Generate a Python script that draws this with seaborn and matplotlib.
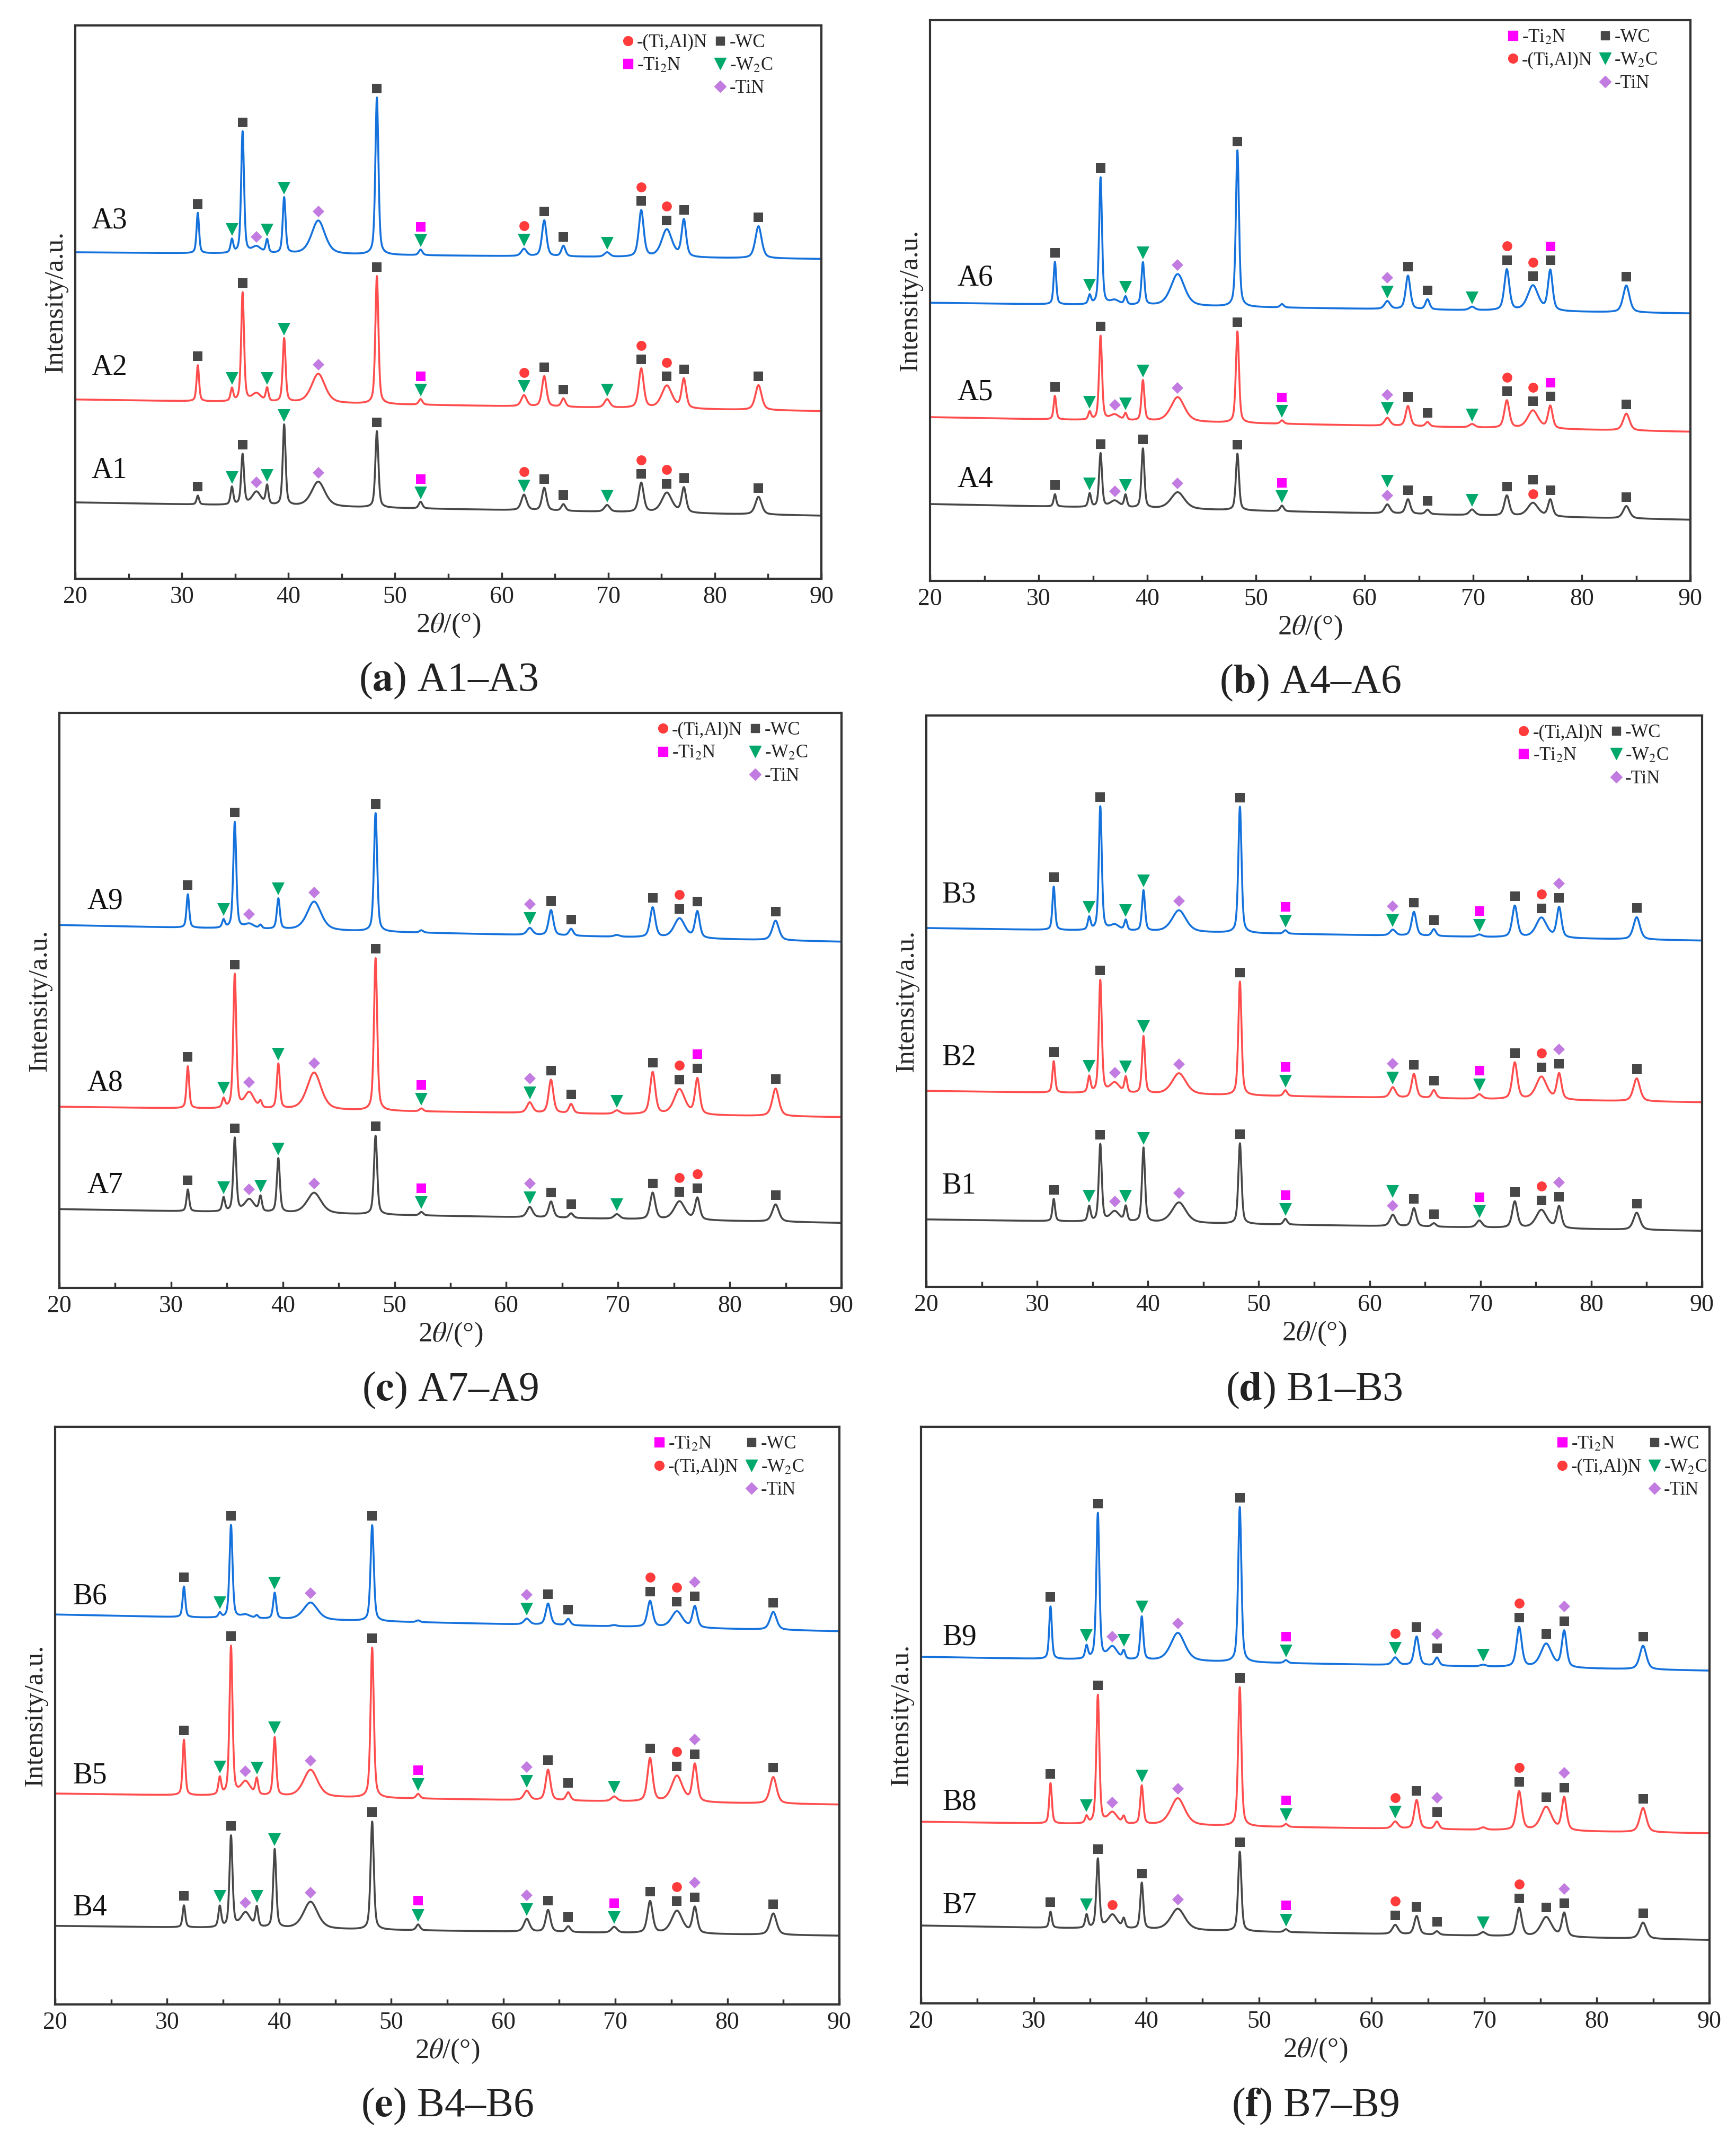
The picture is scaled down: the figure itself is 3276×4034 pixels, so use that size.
import numpy as np
import pandas as pd
import matplotlib
matplotlib.use("Agg")
import matplotlib.pyplot as plt
import seaborn as sns
from matplotlib.lines import Line2D
from matplotlib.ticker import MultipleLocator

# XRD peak positions (2theta, deg) shared by all samples, with their FWHM
peak_pos = [31.5, 34.7, 35.7, 37.0, 38.0, 39.6, 42.8, 48.3, 52.4,
            62.1, 64.0, 65.8, 69.9, 73.1, 75.5, 77.1, 84.1]
peak_fwhm = [0.28, 0.3, 0.32, 1.0, 0.3, 0.32, 1.5, 0.34, 0.4,
             0.6, 0.5, 0.45, 0.6, 0.55, 1.15, 0.5, 0.7]

# peak heights (a.u., panel scale 0-100)
h_A1 = [1.6, 3.2, 9.1, 2.4, 3.4, 14.6, 4.5, 13.8, 1.2, 2.8, 4.1, 1.2, 1.2, 5.3, 3.6, 4.5, 3.2]
h_A2 = [6.5, 2.3, 19.7, 1.5, 2.4, 11.5, 5.3, 23.1, 1.0, 2.0, 5.5, 1.5, 1.5, 7.1, 4.1, 5.3, 4.5]
h_A3 = [7.3, 2.4, 22.0, 1.2, 2.4, 10.1, 6.1, 28.4, 1.0, 1.3, 6.5, 1.9, 0.8, 8.4, 5.0, 6.7, 5.8]
h_A4 = [2.2, 2.4, 9.6, 1.2, 2.2, 10.6, 3.0, 10.1, 1.0, 1.6, 2.6, 0.8, 1.0, 3.6, 2.4, 3.0, 2.2]
h_A5 = [4.2, 1.4, 15.0, 1.0, 1.2, 7.2, 4.4, 16.3, 0.6, 1.4, 3.6, 0.8, 0.6, 4.9, 3.2, 4.0, 3.0]
h_A6 = [7.6, 1.6, 22.7, 0.8, 1.4, 7.6, 5.7, 27.9, 0.6, 1.4, 6.0, 1.8, 0.6, 7.3, 4.5, 7.2, 4.8]
h_A7 = [3.8, 2.4, 12.8, 2.2, 2.6, 9.4, 3.6, 13.7, 0.6, 1.8, 2.8, 0.8, 0.8, 4.6, 3.2, 3.8, 3.0]
h_A8 = [7.3, 1.6, 23.3, 2.8, 1.1, 7.8, 6.5, 26.5, 0.5, 1.8, 5.8, 1.6, 0.6, 7.3, 4.4, 6.2, 4.8]
h_A9 = [5.8, 1.4, 18.5, 0.8, 0.6, 5.3, 5.0, 20.6, 0.4, 1.2, 4.4, 1.2, 0.3, 5.2, 3.4, 4.6, 3.4]
h_B1 = [3.9, 2.6, 13.5, 1.8, 2.6, 13.0, 3.6, 14.1, 1.0, 2.0, 3.2, 0.6, 1.2, 4.6, 3.2, 3.8, 3.0]
h_B2 = [5.5, 2.8, 19.7, 1.8, 2.7, 10.0, 3.7, 19.9, 1.0, 1.8, 4.2, 1.4, 0.8, 6.4, 4.0, 4.5, 4.0]
h_B3 = [7.6, 2.2, 21.7, 1.0, 1.8, 7.1, 3.8, 22.1, 0.6, 1.0, 4.2, 1.2, 0.4, 5.5, 3.5, 5.3, 3.9]
h_B4 = [3.8, 3.6, 15.8, 2.6, 3.4, 13.6, 4.7, 18.7, 1.0, 2.2, 3.8, 1.0, 1.0, 5.5, 3.9, 4.5, 3.7]
h_B5 = [9.6, 3.0, 25.8, 2.4, 2.8, 10.1, 4.7, 26.0, 0.8, 1.6, 5.3, 1.4, 0.8, 7.5, 4.5, 6.5, 4.6]
h_B6 = [5.3, 0.8, 16.1, 0.6, 0.5, 4.5, 3.0, 16.6, 0.3, 1.0, 3.7, 1.1, 0.2, 4.5, 2.8, 3.7, 3.1]
h_B7 = [2.8, 2.3, 12.0, 2.4, 1.6, 8.0, 3.7, 13.8, 0.5, 1.6, 3.2, 0.6, 0.6, 4.9, 3.4, 4.1, 2.8]
h_B8 = [7.0, 1.2, 22.3, 2.0, 1.2, 6.7, 4.7, 24.1, 0.5, 1.2, 5.0, 1.3, 0.4, 6.7, 4.1, 5.7, 4.2]
h_B9 = [9.1, 2.2, 25.3, 2.2, 1.4, 7.5, 4.9, 26.9, 0.5, 1.3, 5.0, 1.4, 0.3, 6.9, 4.1, 6.3, 4.1]

# background level at 20 deg and at 90 deg
base_A = {"A1": (13.8, 11.4), "A2": (32.4, 30.3), "A3": (59.0, 57.8),
          "A4": (13.7, 10.9), "A5": (29.2, 26.6), "A6": (49.6, 47.7),
          "A7": (13.7, 11.3), "A8": (31.5, 29.7), "A9": (63.1, 60.2)}
base_B = {"B1": (11.8, 9.8), "B2": (34.3, 32.3), "B3": (62.8, 60.6),
          "B4": (13.6, 11.9), "B5": (36.5, 34.6), "B6": (67.5, 64.6),
          "B7": (13.5, 11.0), "B8": (31.5, 29.5), "B9": (60.1, 57.7)}

# phase marks above peaks: (2theta, phases from bottom to top)
marks_A1 = [(31.5, "WC"), (34.7, "W2C"), (35.7, "WC"), (37.0, "TiN"), (38.0, "W2C"),
            (39.6, "W2C"), (42.8, "TiN"), (48.3, "WC"), (52.4, "W2C", "Ti2N"),
            (62.1, "W2C", "TiAlN"), (64.0, "WC"), (65.8, "WC"), (69.9, "W2C"),
            (73.1, "WC", "TiAlN"), (75.5, "WC", "TiAlN"), (77.1, "WC"), (84.1, "WC")]
marks_A2 = [(31.5, "WC"), (34.7, "W2C"), (35.7, "WC"), (38.0, "W2C"),
            (39.6, "W2C"), (42.8, "TiN"), (48.3, "WC"), (52.4, "W2C", "Ti2N"),
            (62.1, "W2C", "TiAlN"), (64.0, "WC"), (65.8, "WC"), (69.9, "W2C"),
            (73.1, "WC", "TiAlN"), (75.5, "WC", "TiAlN"), (77.1, "WC"), (84.1, "WC")]
marks_A3 = list(marks_A1)
marks_A4 = [(31.5, "WC"), (34.7, "W2C"), (35.7, "WC"), (37.0, "TiN"), (38.0, "W2C"),
            (39.6, "WC"), (42.8, "TiN"), (48.3, "WC"), (52.4, "W2C", "Ti2N"),
            (62.1, "TiN", "W2C"), (64.0, "WC"), (65.8, "WC"), (69.9, "W2C"),
            (73.1, "WC"), (75.5, "TiAlN", "WC"), (77.1, "WC"), (84.1, "WC")]
marks_A5 = [(31.5, "WC"), (34.7, "W2C"), (35.7, "WC"), (37.0, "TiN"), (38.0, "W2C"),
            (39.6, "W2C"), (42.8, "TiN"), (48.3, "WC"), (52.4, "W2C", "Ti2N"),
            (62.1, "W2C", "TiN"), (64.0, "WC"), (65.8, "WC"), (69.9, "W2C"),
            (73.1, "WC", "TiAlN"), (75.5, "WC", "TiAlN"), (77.1, "WC", "Ti2N"), (84.1, "WC")]
marks_A6 = [(31.5, "WC"), (34.7, "W2C"), (35.7, "WC"), (38.0, "W2C"),
            (39.6, "W2C"), (42.8, "TiN"), (48.3, "WC"),
            (62.1, "W2C", "TiN"), (64.0, "WC"), (65.8, "WC"), (69.9, "W2C"),
            (73.1, "WC", "TiAlN"), (75.5, "WC", "TiAlN"), (77.1, "WC", "Ti2N"), (84.1, "WC")]
marks_A7 = [(31.5, "WC"), (34.7, "W2C"), (35.7, "WC"), (37.0, "TiN"), (38.0, "W2C"),
            (39.6, "W2C"), (42.8, "TiN"), (48.3, "WC"), (52.4, "W2C", "Ti2N"),
            (62.1, "W2C", "TiN"), (64.0, "WC"), (65.8, "WC"), (69.9, "W2C"),
            (73.1, "WC"), (75.5, "WC", "TiAlN"), (77.1, "WC", "TiAlN"), (84.1, "WC")]
marks_A8 = [(31.5, "WC"), (34.7, "W2C"), (35.7, "WC"), (37.0, "TiN"),
            (39.6, "W2C"), (42.8, "TiN"), (48.3, "WC"), (52.4, "W2C", "Ti2N"),
            (62.1, "W2C", "TiN"), (64.0, "WC"), (65.8, "WC"), (69.9, "W2C"),
            (73.1, "WC"), (75.5, "WC", "TiAlN"), (77.1, "WC", "Ti2N"), (84.1, "WC")]
marks_A9 = [(31.5, "WC"), (34.7, "W2C"), (35.7, "WC"), (37.0, "TiN"),
            (39.6, "W2C"), (42.8, "TiN"), (48.3, "WC"),
            (62.1, "W2C", "TiN"), (64.0, "WC"), (65.8, "WC"),
            (73.1, "WC"), (75.5, "WC", "TiAlN"), (77.1, "WC"), (84.1, "WC")]
marks_B1 = [(31.5, "WC"), (34.7, "W2C"), (35.7, "WC"), (37.0, "TiN"), (38.0, "W2C"),
            (39.6, "W2C"), (42.8, "TiN"), (48.3, "WC"), (52.4, "W2C", "Ti2N"),
            (62.1, "TiN", "W2C"), (64.0, "WC"), (65.8, "WC"), (69.9, "W2C", "Ti2N"),
            (73.1, "WC"), (75.5, "WC", "TiAlN"), (77.1, "WC", "TiN"), (84.1, "WC")]
marks_B2 = [(31.5, "WC"), (34.7, "W2C"), (35.7, "WC"), (37.0, "TiN"), (38.0, "W2C"),
            (39.6, "W2C"), (42.8, "TiN"), (48.3, "WC"), (52.4, "W2C", "Ti2N"),
            (62.1, "W2C", "TiN"), (64.0, "WC"), (65.8, "WC"), (69.9, "W2C", "Ti2N"),
            (73.1, "WC"), (75.5, "WC", "TiAlN"), (77.1, "WC", "TiN"), (84.1, "WC")]
marks_B3 = [(31.5, "WC"), (34.7, "W2C"), (35.7, "WC"), (38.0, "W2C"),
            (39.6, "W2C"), (42.8, "TiN"), (48.3, "WC"), (52.4, "W2C", "Ti2N"),
            (62.1, "W2C", "TiN"), (64.0, "WC"), (65.8, "WC"), (69.9, "W2C", "Ti2N"),
            (73.1, "WC"), (75.5, "WC", "TiAlN"), (77.1, "WC", "TiN"), (84.1, "WC")]
marks_B4 = [(31.5, "WC"), (34.7, "W2C"), (35.7, "WC"), (37.0, "TiN"), (38.0, "W2C"),
            (39.6, "W2C"), (42.8, "TiN"), (48.3, "WC"), (52.4, "W2C", "Ti2N"),
            (62.1, "W2C", "TiN"), (64.0, "WC"), (65.8, "WC"), (69.9, "W2C", "Ti2N"),
            (73.1, "WC"), (75.5, "WC", "TiAlN"), (77.1, "WC", "TiN"), (84.1, "WC")]
marks_B5 = [(31.5, "WC"), (34.7, "W2C"), (35.7, "WC"), (37.0, "TiN"), (38.0, "W2C"),
            (39.6, "W2C"), (42.8, "TiN"), (48.3, "WC"), (52.4, "W2C", "Ti2N"),
            (62.1, "W2C", "TiN"), (64.0, "WC"), (65.8, "WC"), (69.9, "W2C"),
            (73.1, "WC"), (75.5, "WC", "TiAlN"), (77.1, "WC", "TiN"), (84.1, "WC")]
marks_B6 = [(31.5, "WC"), (34.7, "W2C"), (35.7, "WC"),
            (39.6, "W2C"), (42.8, "TiN"), (48.3, "WC"),
            (62.1, "W2C", "TiN"), (64.0, "WC"), (65.8, "WC"),
            (73.1, "WC", "TiAlN"), (75.5, "WC", "TiAlN"), (77.1, "WC", "TiN"), (84.1, "WC")]
marks_B7 = [(31.5, "WC"), (34.7, "W2C"), (35.7, "WC"), (37.0, "TiAlN"),
            (39.6, "WC"), (42.8, "TiN"), (48.3, "WC"), (52.4, "W2C", "Ti2N"),
            (62.1, "WC", "TiAlN"), (64.0, "WC"), (65.8, "WC"), (69.9, "W2C"),
            (73.1, "WC", "TiAlN"), (75.5, "WC"), (77.1, "WC", "TiN"), (84.1, "WC")]
marks_B8 = [(31.5, "WC"), (34.7, "W2C"), (35.7, "WC"), (37.0, "TiN"),
            (39.6, "W2C"), (42.8, "TiN"), (48.3, "WC"), (52.4, "W2C", "Ti2N"),
            (62.1, "W2C", "TiAlN"), (64.0, "WC"), (65.8, "WC", "TiN"),
            (73.1, "WC", "TiAlN"), (75.5, "WC"), (77.1, "WC", "TiN"), (84.1, "WC")]
marks_B9 = [(31.5, "WC"), (34.7, "W2C"), (35.7, "WC"), (37.0, "TiN"), (38.0, "W2C"),
            (39.6, "W2C"), (42.8, "TiN"), (48.3, "WC"), (52.4, "W2C", "Ti2N"),
            (62.1, "W2C", "TiAlN"), (64.0, "WC"), (65.8, "WC", "TiN"), (69.9, "W2C"),
            (73.1, "WC", "TiAlN"), (75.5, "WC"), (77.1, "WC", "TiN"), (84.1, "WC")]

heights = {"A1": h_A1, "A2": h_A2, "A3": h_A3, "A4": h_A4, "A5": h_A5, "A6": h_A6,
           "A7": h_A7, "A8": h_A8, "A9": h_A9, "B1": h_B1, "B2": h_B2, "B3": h_B3,
           "B4": h_B4, "B5": h_B5, "B6": h_B6, "B7": h_B7, "B8": h_B8, "B9": h_B9}
marks = {"A1": marks_A1, "A2": marks_A2, "A3": marks_A3, "A4": marks_A4, "A5": marks_A5,
         "A6": marks_A6, "A7": marks_A7, "A8": marks_A8, "A9": marks_A9,
         "B1": marks_B1, "B2": marks_B2, "B3": marks_B3, "B4": marks_B4, "B5": marks_B5,
         "B6": marks_B6, "B7": marks_B7, "B8": marks_B8, "B9": marks_B9}
baselines = {**base_A, **base_B}

panel_letters = ["a", "b", "c", "d", "e", "f"]
panel_samples = [["A1", "A2", "A3"], ["A4", "A5", "A6"], ["A7", "A8", "A9"],
                 ["B1", "B2", "B3"], ["B4", "B5", "B6"], ["B7", "B8", "B9"]]
panel_titles = ["A1–A3", "A4–A6", "A7–A9", "B1–B3", "B4–B6", "B7–B9"]

# ---- styling / layout ----
W, H = 3276, 4034
# axes boxes in pixels: left, right, top, bottom
boxes = [(142, 1550, 48, 1092), (1755, 3190, 38, 1096),
         (112, 1588, 1345, 2430), (1748, 3212, 1350, 2428),
         (104, 1584, 2692, 3782), (1738, 3226, 2692, 3780)]
caption_y = [1284, 1288, 2623, 2623, 3974, 3974]
legend_order = [1, 2, 1, 1, 2, 2]
legend_x = [0.935, 0.957, 0.957, 0.957, 0.955, 0.997]
label_x = [21.5, 22.5, 22.5, 21.4, 21.6, 21.9]
label_off = [5.7, 4.4, 4.1, 5.8, 3.1, 3.4]

line_colors = ["#474747", "#ff4d4d", "#1572dc"]
phase_style = {
    "WC": dict(marker="s", color="#474747", ms=12.5, label="-WC"),
    "W2C": dict(marker="v", color="#00a86b", ms=17, label="-W$_2$C"),
    "TiN": dict(marker="D", color="#c27be0", ms=11.5, label="-TiN"),
    "TiAlN": dict(marker="o", color="#ff3b3b", ms=13.5, label="-(Ti,Al)N"),
    "Ti2N": dict(marker="s", color="#ff00ff", ms=13.5, label="-Ti$_2$N"),
}
gap, step = 1.6, 2.5

sns.set_theme(style="ticks")
plt.rcParams["font.family"] = ["Liberation Serif", "DejaVu Serif"]
plt.rcParams["mathtext.fontset"] = "stix"
plt.rcParams["axes.edgecolor"] = "#333333"
plt.rcParams["text.color"] = "#222222"

x = np.arange(20.0, 90.0001, 0.02)


def pattern(xv, name):
    bl, br = baselines[name]
    y = bl + (br - bl) * (xv - 20) / 70
    for p, w, h in zip(peak_pos, peak_fwhm, heights[name]):
        d = (xv - p) / (w / 2)
        y = y + h * (0.5 / (1 + d ** 2) + 0.5 * np.exp(-np.log(2) * d ** 2))
    return y


def legend_handles(order):
    def h(k):
        s = phase_style[k]
        return Line2D([], [], linestyle="none", marker=s["marker"], color=s["color"],
                      markersize=s["ms"] * 0.95, label=s["label"])
    blank = Line2D([], [], linestyle="none", label=" ")
    first = [h("TiAlN"), h("Ti2N")] if order == 1 else [h("Ti2N"), h("TiAlN")]
    return first + [blank, h("WC"), h("W2C"), h("TiN")]


fig = plt.figure(figsize=(W / 100, H / 100), dpi=100)

for i, samples in enumerate(panel_samples):
    L, R, T, B = boxes[i]
    ax = fig.add_axes([L / W, 1 - B / H, (R - L) / W, (B - T) / H])

    df = pd.concat([pd.DataFrame({"two_theta": x, "intensity": pattern(x, s), "sample": s})
                    for s in samples])
    sns.lineplot(data=df, x="two_theta", y="intensity", hue="sample",
                 palette=dict(zip(samples, line_colors)), estimator=None, sort=False,
                 linewidth=2.6, legend=False, ax=ax)

    for s in samples:
        for m in marks[s]:
            xm = m[0]
            apex = float(pattern(np.array([xm]), s)[0])
            for k, ph in enumerate(m[1:]):
                st = phase_style[ph]
                ax.plot([xm], [apex + gap + k * step], linestyle="none",
                        marker=st["marker"], color=st["color"], markersize=st["ms"],
                        markeredgewidth=0, zorder=5)
        ax.text(label_x[i], baselines[s][0] + label_off[i], s, fontsize=40,
                ha="left", va="center", color="#111111")

    ax.set_xlim(20, 90)
    ax.set_ylim(0, 100)
    ax.set_yticks([])
    ax.xaxis.set_major_locator(MultipleLocator(10))
    ax.xaxis.set_minor_locator(MultipleLocator(5))
    ax.tick_params(axis="x", which="major", direction="in", length=9, width=2.5,
                   labelsize=33, pad=10, colors="#333333", labelcolor="#222222")
    ax.tick_params(axis="x", which="minor", direction="in", length=7, width=2.5,
                   colors="#333333")
    for sp in ax.spines.values():
        sp.set_linewidth(3)
        sp.set_color("#333333")
    ax.set_xlabel("2$\\theta$/(°)", fontsize=38, labelpad=4)
    ax.set_ylabel("Intensity/a.u.", fontsize=37, labelpad=10)

    ax.legend(handles=legend_handles(legend_order[i]), ncol=2, frameon=False,
              loc="upper right", bbox_to_anchor=(legend_x[i], 0.985), fontsize=25,
              handlelength=0.8, handletextpad=0.1, columnspacing=0.3,
              labelspacing=0.3, borderpad=0, borderaxespad=0)

    fig.text((L + R) / 2 / W, 1 - caption_y[i] / H,
             "($\\mathbf{" + panel_letters[i] + "}$) " + panel_titles[i],
             fontsize=56, ha="center", va="center")

fig.savefig("out.png", dpi=100)
